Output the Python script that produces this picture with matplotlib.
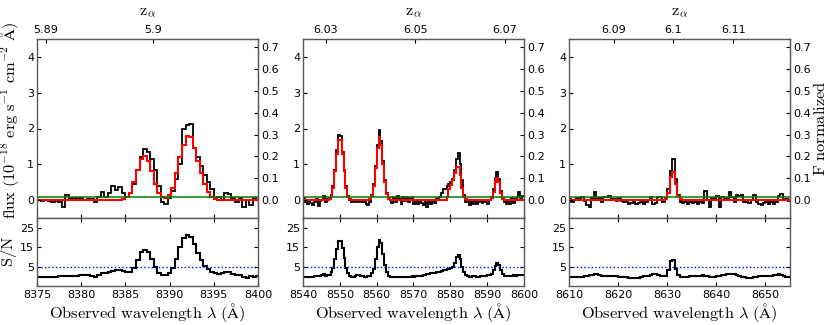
import numpy as np
import matplotlib
matplotlib.use("Agg")
import matplotlib.pyplot as plt

plt.rcParams['mathtext.fontset'] = 'cm'
plt.rcParams['font.family'] = ['DejaVu Sans']

LYA = 1215.67

# ---------------- data ----------------
# left panel (bins of 0.4 A starting at 8375.0)
left_start, left_step = 8375.0, 0.4
flux_left = [0.0, -0.03, 0.0, -0.02, -0.04, -0.03, -0.06, -0.18, 0.15, 0.02,
             0.05, 0.03, 0.06, 0.0, 0.04, 0.02, -0.05, 0.08, 0.24, 0.1,
             0.2, 0.38, 0.27, 0.36, 0.2, 0.1, 0.2, 0.45, 0.85, 1.2,
             1.42, 1.35, 1.15, 0.85, 0.4, -0.05, -0.1, 0.05, 0.25, 0.6,
             1.0, 2.0, 2.1, 2.13, 1.45, 1.2, 0.95, 0.7, 0.5, 0.3,
             0.05, 0.1, 0.0, 0.2, 0.18, 0.05, -0.05, 0.05, -0.2, 0.0,
             -0.15, 0.05, 0.0]
model_left = [0.0, 0.0, 0.0, 0.0, 0.0, 0.0, 0.0, 0.0, 0.0, 0.0,
              0.0, 0.0, 0.0, 0.0, 0.0, 0.0, 0.0, 0.0, 0.0, 0.0,
              0.0, 0.0, 0.0, 0.0, 0.02, 0.08, 0.2, 0.5, 0.85, 1.15,
              1.22, 1.1, 0.8, 0.45, 0.2, 0.08, 0.05, 0.15, 0.35, 0.75,
              1.2, 1.55, 1.8, 1.75, 1.45, 1.1, 0.75, 0.45, 0.22, 0.08,
              0.02, 0.0, 0.0, 0.0, 0.0, 0.0, 0.0, 0.0, 0.0, 0.0,
              0.0, 0.0, 0.0]
sn_left = [-0.3, -0.4, -0.2, -0.4, -0.5, -0.4, -0.1, 0.0, 0.1, 0.2,
           0.1, 0.3, 0.6, 0.5, 0.6, 0.4, -0.3, 0.5, 1.5, 1.8,
           2.0, 2.5, 3.0, 3.2, 2.5, 2.0, 2.4, 4.5, 8.5, 12.5,
           13.5, 12.5, 9.0, 5.0, 1.5, 0.5, 0.5, 1.8, 4.5, 9.0,
           15.0, 19.5, 21.0, 20.0, 16.5, 12.0, 8.5, 5.5, 3.5, 2.0,
           1.5, 1.0, 1.5, 2.2, 2.0, 1.0, 0.8, 0.5, -0.5, -0.8,
           0.2, -0.3, 0.4]

# middle panel (bins of 0.5 A starting at 8540.0)
mid_start, mid_step = 8540.0, 0.5
flux_mid = [0.05, -0.05, -0.12, 0.0, -0.08, -0.15, -0.05, 0.02, -0.16, -0.03,
            0.0, 0.12, -0.05, 0.02,
            0.05, 0.15, 0.38, 0.85, 1.4, 1.82, 1.78, 1.35, 0.85, 0.4, 0.12, 0.0,
            -0.04, -0.02, -0.05, -0.03, -0.05, -0.02, -0.06, -0.03, -0.1, -0.14,
            -0.05, 0.15, 0.45, 0.95, 1.55, 1.96, 1.65, 1.1, 0.55, 0.2, 0.05,
            0.0, -0.08, 0.1, -0.05, 0.12, 0.02, -0.1, 0.08, -0.03, 0.1,
            -0.06, 0.05, 0.1, -0.12, -0.02, -0.1, 0.0, -0.08, -0.15, -0.05,
            -0.18, -0.06, -0.12, 0.0, -0.08, 0.02, 0.05,
            0.1, 0.2, 0.3, 0.32, 0.4, 0.45, 0.5, 0.6, 0.85, 1.15, 1.32, 1.0, 0.55, 0.15, -0.05,
            -0.05, -0.15, -0.02, -0.1, 0.0, -0.12, -0.05, -0.03, -0.08, 0.0, -0.05, -0.1, 0.0,
            0.1, 0.3, 0.62, 0.79, 0.6, 0.25, 0.05,
            -0.05, -0.1, 0.0, -0.12, 0.05, -0.08, 0.02, 0.1, 0.22, 0.05, 0.12]
model_mid = [0.0, 0.0, 0.0, 0.0, 0.0, 0.0, 0.0, 0.0, 0.0, 0.0, 0.0, 0.0, 0.0, 0.0,
             0.02, 0.1, 0.35, 0.8, 1.3, 1.68, 1.68, 1.3, 0.8, 0.35, 0.1, 0.02,
             0.0, 0.0, 0.0, 0.0, 0.0, 0.0, 0.0, 0.0, 0.0, 0.0,
             0.03, 0.12, 0.4, 0.9, 1.45, 1.76, 1.55, 1.0, 0.5, 0.18, 0.04,
             0.0, 0.0, 0.0, 0.0, 0.0, 0.0, 0.0, 0.0, 0.0, 0.0, 0.0, 0.0, 0.0, 0.0,
             0.0, 0.0, 0.0, 0.0, 0.0, 0.0, 0.0, 0.0, 0.0, 0.0, 0.0, 0.0, 0.0,
             0.0, 0.0, 0.0, 0.0, 0.1, 0.3, 0.42, 0.55, 0.75, 0.92, 0.93, 0.7, 0.35, 0.1, 0.02,
             0.0, 0.0, 0.0, 0.0, 0.0, 0.0, 0.0, 0.0, 0.0, 0.0, 0.0, 0.0, 0.0,
             0.05, 0.22, 0.5, 0.63, 0.5, 0.2, 0.04,
             0.0, 0.0, 0.0, 0.0, 0.0, 0.0, 0.0, 0.0, 0.0, 0.0, 0.0]
sn_mid = [-0.2, -0.4, -0.5, -0.3, -0.4, -0.2, 0.0, 0.3, 0.0, 0.2, 0.8, 1.0, 0.3, 0.5,
          0.8, 2.0, 4.5, 9.0, 14.0, 18.0, 18.2, 14.5, 9.5, 4.5, 1.5, 0.3,
          -0.2, -0.3, 0.0, 0.6, 0.8, 0.2, -0.1, -0.3, -0.2, -0.1,
          0.2, 1.5, 4.0, 9.0, 15.0, 18.9, 17.0, 11.5, 6.0, 2.0, 0.4,
          -0.2, -0.4, -0.3, -0.5, -0.4, -0.2, -0.5, -0.6, -0.4, -0.3, -0.5, -0.3, 0.0,
          -0.2, 0.1, 0.0, 0.3, 0.4, 0.6, 0.9, 1.0, 1.2, 1.5, 1.7, 1.8, 2.0, 2.1,
          2.3, 2.6, 3.0, 3.2, 3.5, 3.8, 4.2, 4.8, 7.0, 9.8, 10.9, 9.0, 5.0, 2.0, 0.8,
          0.2, -0.2, -0.3, -0.1, 0.0, -0.3, -0.2, 0.0, 0.1, -0.1, 0.2, 0.5, 0.6,
          1.0, 3.0, 5.5, 7.0, 6.0, 3.0, 1.0,
          0.3, 0.0, 0.2, 0.4, 0.3, 0.5, 0.3, 0.6, 0.8, 0.5, 0.6]

# right panel (bins of 0.5 A starting at 8610.0)
right_start, right_step = 8610.0, 0.5
flux_right = [0.02, -0.05, 0.0, 0.06, 0.04, 0.08, -0.03, -0.15, -0.18, 0.05,
              0.23, 0.0, 0.05, -0.06, 0.1, 0.08, 0.12, 0.0, 0.02, -0.02,
              0.05, -0.03, -0.06, -0.05, -0.1, -0.07, -0.04, -0.1, -0.08, -0.05,
              -0.1, -0.06, 0.0, 0.1, -0.1, -0.08, 0.1, 0.08, -0.05, 0.05,
              0.3, 0.8, 1.14, 0.6, 0.15, -0.05, -0.08, -0.05, -0.1, -0.06,
              -0.08, -0.04, -0.1, -0.05, -0.07, 0.26, 0.0, -0.18, 0.05, 0.02,
              0.12, -0.18, 0.1, 0.0, 0.05, 0.23, 0.08, -0.05, 0.14, 0.12,
              0.15, -0.05, -0.03, -0.08, 0.0, 0.14, -0.05, -0.1, -0.15, -0.08,
              -0.05, -0.12, -0.06, -0.1, -0.05, 0.12, 0.18, 0.0, 0.02, -0.02]
model_right = [0.0, 0.0, 0.0, 0.0, 0.0, 0.0, 0.0, 0.0, 0.0, 0.0,
               0.0, 0.0, 0.0, 0.0, 0.0, 0.0, 0.0, 0.0, 0.0, 0.0,
               0.0, 0.0, 0.0, 0.0, 0.0, 0.0, 0.0, 0.0, 0.0, 0.0,
               0.0, 0.0, 0.0, 0.0, 0.0, 0.0, 0.0, 0.0, 0.0, 0.03,
               0.2, 0.65, 0.79, 0.45, 0.12, 0.02, 0.0, 0.0, 0.0, 0.0,
               0.0, 0.0, 0.0, 0.0, 0.0, 0.0, 0.0, 0.0, 0.0, 0.0,
               0.0, 0.0, 0.0, 0.0, 0.0, 0.0, 0.0, 0.0, 0.0, 0.0,
               0.0, 0.0, 0.0, 0.0, 0.0, 0.0, 0.0, 0.0, 0.0, 0.0,
               0.0, 0.0, 0.0, 0.0, 0.0, 0.0, 0.0, 0.0, 0.0, 0.0]
sn_right = [-0.2, -0.3, -0.2, -0.4, -0.3, -0.2, 0.0, 0.2, 0.5, 0.9,
            1.2, 1.0, 0.6, 0.3, 0.2, 0.0, 0.1, 0.0, -0.1, 0.0,
            -0.2, -0.3, -0.4, -0.6, -0.8, -0.9, -1.0, -1.0, -0.7, -0.3,
            -0.1, 0.0, 0.3, 0.6, 1.0, 1.2, 0.6, 0.2, 0.0, 0.2,
            3.0, 8.0, 8.3, 3.5, 0.5, -0.2, -0.3, -0.4, -0.2, 0.0,
            0.2, 0.3, 0.2, 0.4, 0.5, 0.3, 0.0, -0.2, -0.3, -0.2,
            0.0, 0.2, 0.5, 0.8, 1.0, 1.2, 1.3, 1.0, 0.6, 0.2,
            -0.3, -0.6, -0.9, -1.0, -0.8, -0.5, -0.2, 0.0, 0.2, 0.1,
            0.0, 0.2, 0.4, 0.7, 0.9, 1.0, 0.6, 0.0, -0.3, -0.2]

continuum_level = 0.075
sn_threshold = 5
flux_to_norm = 6.1

xlims = [(8375, 8400), (8540, 8600), (8610, 8655)]
xticks = [[8375, 8380, 8385, 8390, 8395, 8400],
          [8540, 8550, 8560, 8570, 8580, 8590, 8600],
          [8610, 8620, 8630, 8640, 8650]]
zticks = [[5.89, 5.9, 5.91], [6.03, 6.05, 6.07], [6.09, 6.1, 6.11]]
zlabels = [["5.89", "5.9", "5.91"], ["6.03", "6.05", "6.07"], ["6.09", "6.1", "6.11"]]

panels = [(left_start, left_step, flux_left, model_left, sn_left),
          (mid_start, mid_step, flux_mid, model_mid, sn_mid),
          (right_start, right_step, flux_right, model_right, sn_right)]

# ---------------- figure ----------------
W, H = 830, 325
fig = plt.figure(figsize=(W / 100, H / 100), dpi=100)
lefts = [37, 303, 569]
pw = 221
spine_col = '0.35'
green = (0, 0.5, 0)
TS = 8.0   # tick label size
LS = 11.8  # axis label size

def style(ax):
    for s in ax.spines.values():
        s.set_color(spine_col)
        s.set_linewidth(1.0)

for k, (start, step, flux, model, sn) in enumerate(panels):
    edges = start + step * np.arange(len(flux) + 1)
    axt = fig.add_axes([lefts[k] / W, (H - 218) / H, pw / W, 179 / H])
    axb = fig.add_axes([lefts[k] / W, (H - 286) / H, pw / W, 68 / H])

    axt.stairs(flux, edges, baseline=None, color='k', lw=1.3)
    axt.axhline(continuum_level, color=green, lw=1.1)
    axt.stairs(model, edges, baseline=None, color='r', lw=1.5)
    axt.set_xlim(*xlims[k])
    axt.set_ylim(-0.5, 4.5)
    axt.set_yticks([0, 1, 2, 3, 4])
    axt.set_xticks(xticks[k])
    axt.tick_params(axis='x', direction='in', length=3, labelbottom=False)
    axt.tick_params(axis='y', direction='in', length=3, pad=2, labelsize=TS)
    style(axt)

    sec = axt.secondary_xaxis('top', functions=(lambda l: l / LYA - 1, lambda z: (1 + z) * LYA))
    sec.set_xticks(zticks[k])
    sec.set_xticklabels(zlabels[k])
    sec.tick_params(direction='in', length=3, pad=3, labelsize=TS)
    sec.spines['top'].set_color(spine_col)

    secy = axt.secondary_yaxis('right', functions=(lambda f: f / flux_to_norm, lambda n: n * flux_to_norm))
    secy.set_yticks([0.0, 0.1, 0.2, 0.3, 0.4, 0.5, 0.6, 0.7])
    secy.set_yticklabels(["0.0", "0.1", "0.2", "0.3", "0.4", "0.5", "0.6", "0.7"])
    secy.tick_params(direction='in', length=3, pad=2, labelsize=TS)
    secy.spines['right'].set_color(spine_col)

    axb.stairs(sn, edges, baseline=None, color='k', lw=1.5)
    axb.axhline(sn_threshold, color='b', ls=':', lw=1.0)
    axb.set_xlim(*xlims[k])
    axb.set_ylim(-5, 30)
    axb.set_yticks([5, 15, 25])
    axb.set_xticks(xticks[k])
    axb.tick_params(direction='in', length=3, top=True, right=True, labelright=False,
                    pad=3, labelsize=TS)
    axb.tick_params(axis='y', pad=2)
    style(axb)

    cx = (lefts[k] + pw / 2) / W
    fig.text(cx, 1 - 313 / H, r'$\mathrm{Observed\ wavelength}\ \lambda\ \mathrm{(\AA)}$',
             ha='center', va='center', fontsize=LS)
    fig.text(cx, 1 - 13 / H, r'$\mathrm{z}_{\alpha}$', ha='center', va='center', fontsize=LS)

fig.text(10 / W, 1 - 121 / H,
         r'$\mathrm{flux\ (10^{-18}\ erg\ s^{-1}\ cm^{-2}\ \AA)}$',
         rotation=90, ha='center', va='center', fontsize=LS)
fig.text(9 / W, 1 - 251 / H, r'$\mathrm{S/N}$', rotation=90, ha='center', va='center', fontsize=LS)
fig.text(820 / W, 1 - 128 / H, r'$\mathrm{F\ normalized}$', rotation=90, ha='center', va='center',
         fontsize=LS)

fig.savefig('out.png', dpi=100)
